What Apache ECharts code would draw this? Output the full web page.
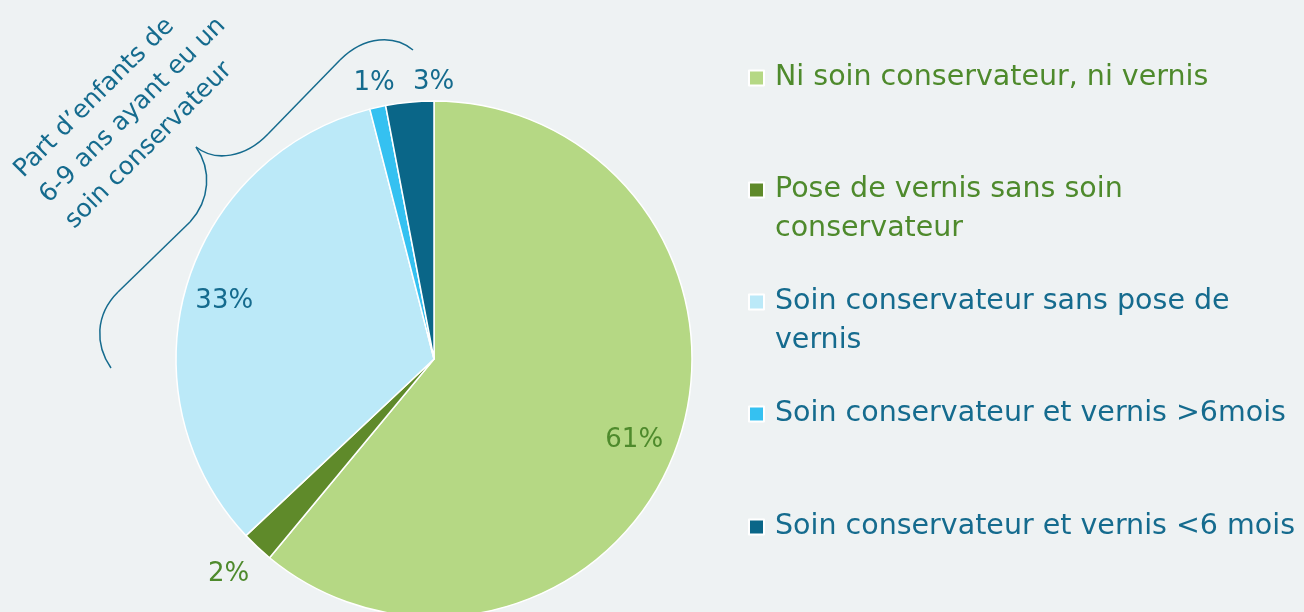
<!DOCTYPE html>
<html><head><meta charset="utf-8">
<script src="https://cdn.jsdelivr.net/npm/echarts@6/dist/echarts.min.js"></script>
<style>html,body{margin:0;padding:0;background:#eef2f3;}#c{width:1304px;height:612px;}</style>
</head><body><div id="c"></div>
<script>
const categories = [
  "Ni soin conservateur, ni vernis",
  "Pose de vernis sans soin conservateur",
  "Soin conservateur sans pose de vernis",
  "Soin conservateur et vernis >6mois",
  "Soin conservateur et vernis <6 mois"
];
const values = [61, 2, 33, 1, 3];
const annotationLines = ["Part d\u2019enfants de", "6-9 ans ayant eu un", "soin conservateur"];
const legendBreakAfterWords = [0, 5, 5, 0, 0];

const sliceColors = ["#b5d884", "#5f8a2a", "#bbe9f8", "#35c1f1", "#0a6688"];
const textColors = ["#4e8a2c", "#4e8a2c", "#156b8e", "#156b8e", "#156b8e"];
const labelOffsets = [[76, 37], [-115, 119], [-83, -21], [-31, -147], [12, -145]];
const legendTops = [58.5, 131.5, 243.5, 394.5, 507.5];
const FONT = "DejaVu Sans";

const chart = echarts.init(document.getElementById('c'));

const legends = categories.map((name, i) => {
  const n = legendBreakAfterWords[i];
  return {
    data: [name], left: 748, top: legendTops[i], padding: 0,
    icon: 'rect', itemWidth: 15, itemHeight: 15, itemGap: 0,
    formatter: function (nm) {
      if (!n) return nm;
      const w = nm.split(' ');
      return '\n' + w.slice(0, n).join(' ') + '\n' + w.slice(n).join(' ');
    },
    textStyle: {fontFamily: FONT, fontSize: 28.5, color: textColors[i], lineHeight: 39, padding: [0, 0, 0, 6]},
    selectedMode: false
  };
});

const braceStyle = {fill: 'none', stroke: '#156b8e', lineWidth: 1.5};
function bez(x1, y1, c1x, c1y, c2x, c2y, x2, y2) {
  return {type: 'bezierCurve', shape: {x1, y1, cpx1: c1x, cpy1: c1y, cpx2: c2x, cpy2: c2y, x2, y2}, style: braceStyle, silent: true};
}
function seg(x1, y1, x2, y2) {
  return {type: 'line', shape: {x1, y1, x2, y2}, style: braceStyle, silent: true};
}

chart.setOption({
  backgroundColor: '#eef2f3',
  animation: false,
  legend: legends,
  series: [{
    type: 'pie',
    center: [434, 359],
    radius: [0, 258],
    startAngle: 90,
    clockwise: true,
    silent: true,
    itemStyle: {borderColor: '#ffffff', borderWidth: 1.5},
    labelLine: {show: false},
    data: categories.map((name, i) => ({
      name: name,
      value: values[i],
      itemStyle: {color: sliceColors[i]},
      label: {
        show: true, position: 'inside', formatter: '{c}%',
        fontFamily: FONT, fontSize: 26, color: textColors[i],
        offset: labelOffsets[i]
      }
    }))
  }],
  graphic: [
    bez(111, 368, 95, 345, 95, 315, 118, 292),
    seg(118, 292, 190, 222),
    bez(190, 222, 210, 200, 212, 170, 196, 147),
    bez(196, 147, 215, 162, 245, 158, 268, 134),
    seg(268, 134, 340, 60),
    bez(340, 60, 365, 35, 395, 35, 413, 50),
    {
      type: 'text',
      x: 6, y: 161,
      rotation: Math.PI / 4,
      style: {
        text: annotationLines.join('\n'),
        fontFamily: FONT, fontSize: 25, lineHeight: 36,
        fill: '#156b8e', align: 'left', verticalAlign: 'top'
      }
    }
  ]
});
</script>
</body></html>
